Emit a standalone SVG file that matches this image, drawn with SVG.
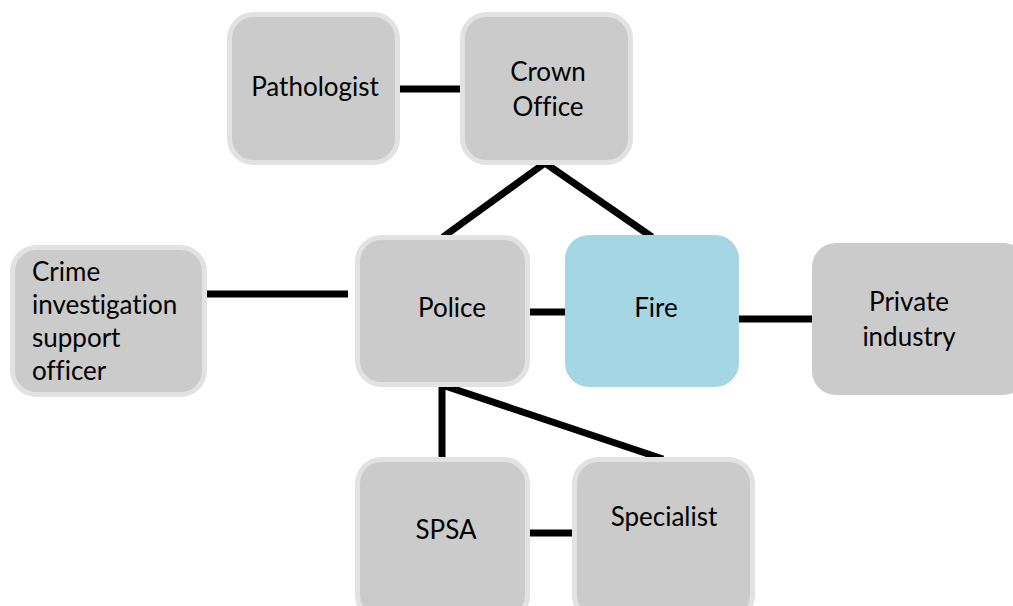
<svg xmlns="http://www.w3.org/2000/svg" width="1013" height="606" viewBox="0 0 1013 606">
<style>
.box{fill:#cbcbcb;stroke:#e2e2e2;stroke-width:5}
.plain{fill:#cbcbcb}
.fire{fill:#a4d6e4}
.lbl{font-family:"Lato","Open Sans","Liberation Sans",sans-serif;font-size:26px;fill:#000;font-variant-ligatures:none;font-feature-settings:"liga" 0,"dlig" 0}
.c{text-anchor:middle}
.ln{stroke:#000;stroke-width:7;fill:none}
</style>
<rect width="1013" height="606" fill="#fff"/>
<g id="connectors">
<line class="ln" x1="398" y1="89" x2="462" y2="89"/>
<polyline class="ln" points="443,237 545,163 652,237"/>
<line class="ln" x1="206" y1="294" x2="348" y2="294"/>
<line class="ln" x1="527" y1="312" x2="567" y2="312"/>
<line class="ln" x1="738" y1="319" x2="812" y2="319"/>
<polyline class="ln" points="442,460 442,385 663,459"/>
<line class="ln" x1="527" y1="533" x2="575" y2="533"/>
</g>
<g id="pathologist">
<rect class="box" x="229.5" y="14.5" width="168" height="148" rx="24"/>
<text class="lbl c" x="315" y="96">Pathologist</text>
</g>
<g id="crown-office">
<rect class="box" x="462.5" y="14.5" width="168" height="148" rx="24"/>
<text class="lbl c" x="548" y="81">Crown</text>
<text class="lbl c" x="548" y="116">Office</text>
</g>
<g id="crime-officer">
<rect class="box" x="12.5" y="247.5" width="192" height="147" rx="24"/>
<text class="lbl" x="32" y="281">Crime</text>
<text class="lbl" x="32" y="314">investigation</text>
<text class="lbl" x="32" y="347">support</text>
<text class="lbl" x="32" y="380">officer</text>
</g>
<g id="police">
<rect class="box" x="357.5" y="237.5" width="170" height="147" rx="24"/>
<text class="lbl c" x="452" y="317">Police</text>
</g>
<g id="fire">
<rect class="fire" x="565" y="235" width="174" height="152" rx="24"/>
<text class="lbl c" x="656" y="317">Fire</text>
</g>
<g id="private-industry">
<rect class="plain" x="812" y="243" width="215" height="152" rx="24"/>
<text class="lbl c" x="909" y="311">Private</text>
<text class="lbl c" x="909" y="346">industry</text>
</g>
<g id="spsa">
<rect class="box" x="357.5" y="459.5" width="170" height="160" rx="24"/>
<text class="lbl c" x="446" y="539">SPSA</text>
</g>
<g id="specialist">
<rect class="box" x="574.5" y="459.5" width="178" height="160" rx="24"/>
<text class="lbl c" x="664" y="526">Specialist</text>
</g>
</svg>
